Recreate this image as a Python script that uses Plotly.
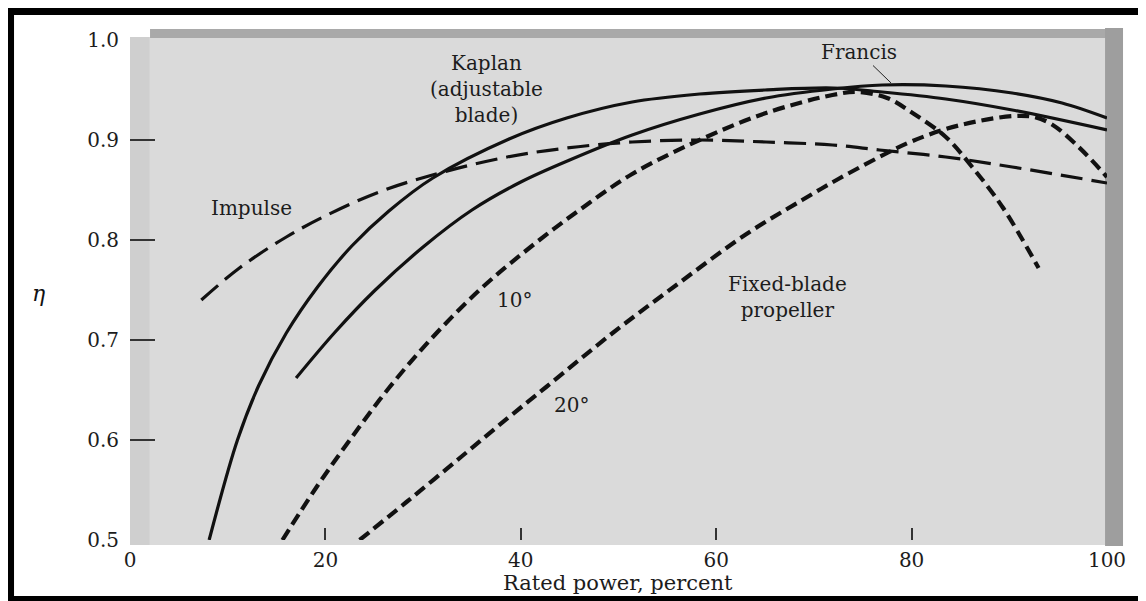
import plotly.graph_objects as go

# ---- data ----
kaplan_x = [8.1, 11.0, 13.2, 16.0, 19.2, 22.7, 26.5, 31.0, 38.8, 44.7, 51.4, 58.3, 65.0, 72.0, 77.0, 83.5, 90.3, 100]
kaplan_y = [0.50, 0.60, 0.655, 0.707, 0.753, 0.794, 0.829, 0.862, 0.901, 0.922, 0.938, 0.946, 0.95, 0.952, 0.948, 0.941, 0.93, 0.91]

francis_x = [17.0, 21.0, 25.0, 30.0, 35.0, 40.0, 45.0, 51.4, 58.3, 65.1, 71.9, 77.0, 83.5, 90.3, 95.4, 100]
francis_y = [0.662, 0.708, 0.749, 0.793, 0.83, 0.858, 0.88, 0.905, 0.926, 0.942, 0.951, 0.955, 0.954, 0.947, 0.937, 0.922]

impulse_x = [7.3, 11.2, 16.0, 20.4, 25.5, 30.6, 38.1, 44.7, 51.4, 58.3, 65.1, 71.9, 76.7, 83.5, 90.3, 100]
impulse_y = [0.74, 0.772, 0.803, 0.826, 0.848, 0.864, 0.882, 0.892, 0.898, 0.90, 0.898, 0.895, 0.89, 0.883, 0.873, 0.857]

prop10_x = [15.6, 19.1, 22.5, 26.5, 31.0, 36.0, 41.0, 46.0, 51.4, 58.3, 65.1, 71.9, 74.5, 77.5, 80.1, 83.5, 86.2, 89.3, 93.0]
prop10_y = [0.50, 0.553, 0.60, 0.652, 0.703, 0.752, 0.793, 0.83, 0.866, 0.90, 0.927, 0.945, 0.948, 0.942, 0.927, 0.903, 0.873, 0.833, 0.772]

prop20_x = [23.5, 28.3, 34.0, 38.8, 42.6, 49.4, 56.2, 63.1, 68.8, 72.5, 77.7, 80.1, 83.5, 86.9, 90.5, 92.5, 94.3, 97.1, 100]
prop20_y = [0.50, 0.538, 0.584, 0.623, 0.653, 0.707, 0.757, 0.806, 0.84, 0.861, 0.888, 0.899, 0.911, 0.919, 0.924, 0.923, 0.916, 0.893, 0.863]

x_ticks = [0, 20, 40, 60, 80, 100]
x_tick_text = ["0", "20", "40", "60", "80", "100"]
y_ticks = [0.5, 0.6, 0.7, 0.8, 0.9, 1.0]
y_tick_text = ["0.5", "0.6", "0.7", "0.8", "0.9", "1.0"]

INK = "#111111"
TXT = "#1c1c1c"
FONT = "DejaVu Serif"

fig = go.Figure()

def add_curve(x, y, name, width, dash):
    fig.add_trace(go.Scatter(
        x=x, y=y, mode="lines", name=name,
        line=dict(color=INK, width=width, dash=dash, shape="spline", smoothing=1.0),
        showlegend=False, hoverinfo="skip",
    ))

add_curve(kaplan_x, kaplan_y, "Kaplan", 3.2, "solid")
add_curve(francis_x, francis_y, "Francis", 3.2, "solid")
add_curve(impulse_x, impulse_y, "Impulse", 3.2, "22px,9px")
add_curve(prop10_x, prop10_y, "Fixed-blade 10°", 4.2, "12px,6px")
add_curve(prop20_x, prop20_y, "Fixed-blade 20°", 4.2, "12px,6px")

# text labels
lab = dict(family=FONT, size=20, color=TXT)
fig.add_annotation(x=36.5, y=0.951, text="Kaplan<br>(adjustable<br>blade)", showarrow=False,
                   font=lab, align="center", xanchor="center", yanchor="middle")
fig.add_annotation(x=77.9, y=0.957, text="Francis", showarrow=True, arrowhead=0,
                   arrowwidth=1, arrowcolor="#222", ax=-32, ay=-31, font=lab)
fig.add_annotation(x=12.4, y=0.832, text="Impulse", showarrow=False, font=lab,
                   xanchor="center", yanchor="middle")
fig.add_annotation(x=39.4, y=0.740, text="10°", showarrow=False, font=lab,
                   xanchor="center", yanchor="middle")
fig.add_annotation(x=45.2, y=0.635, text="20°", showarrow=False, font=lab,
                   xanchor="center", yanchor="middle")
fig.add_annotation(x=67.3, y=0.743, text="Fixed-blade<br>propeller", showarrow=False,
                   font=lab, align="center", xanchor="center", yanchor="middle")
fig.add_annotation(x=-0.094, y=0.494, xref="paper", yref="paper", text="<i>η</i>",
                   showarrow=False, xanchor="center", yanchor="middle",
                   font=dict(family=FONT, size=22, color=INK))
fig.add_annotation(x=0.4995, y=-0.086, xref="paper", yref="paper",
                   text="Rated power, percent", showarrow=False,
                   xanchor="center", yanchor="middle",
                   font=dict(family=FONT, size=21, color=TXT))

# background: scanned grey panel, darker top and right bands, black frame
shapes = [
    dict(type="rect", xref="paper", yref="paper", x0=0, x1=1.0, y0=-0.01, y1=1.006,
         fillcolor="#dadada", line=dict(width=0), layer="below"),
    dict(type="rect", xref="paper", yref="paper", x0=0, x1=0.02, y0=-0.01, y1=1.006,
         fillcolor="#cfcfcf", line=dict(width=0), layer="below"),
    dict(type="rect", xref="paper", yref="paper", x0=0.0205, x1=1.0, y0=1.004, y1=1.022,
         fillcolor="#a9a9a9", line=dict(width=0), layer="below"),
    dict(type="rect", xref="paper", yref="paper", x0=0.998, x1=1.0164, y0=-0.012, y1=1.024,
         fillcolor="#9e9e9e", line=dict(width=0), layer="below"),
    dict(type="rect", xref="paper", yref="paper", x0=-0.1249, x1=-0.1187, y0=-0.122, y1=1.066,
         fillcolor="black", line=dict(width=0), layer="above"),
    dict(type="rect", xref="paper", yref="paper", x0=-0.1249, x1=1.04, y0=1.05, y1=1.066,
         fillcolor="black", line=dict(width=0), layer="above"),
    dict(type="rect", xref="paper", yref="paper", x0=-0.1249, x1=1.04, y0=-0.122, y1=-0.112,
         fillcolor="black", line=dict(width=0), layer="above"),
]

# the page body adds an 8px margin, so the figure is 8px smaller and its margins
# are shifted to land the plot area where the reference has it
fig.update_layout(
    width=1138, height=593,
    margin=dict(l=122, r=39, t=32, b=61),
    paper_bgcolor="white", plot_bgcolor="rgba(0,0,0,0)",
    shapes=shapes,
    font=dict(family=FONT, color=INK),
)
fig.update_xaxes(
    range=[0, 100], tickvals=x_ticks, ticktext=x_tick_text, ticks="",
    showgrid=False, zeroline=False, showline=False,
    tickfont=dict(family=FONT, size=20, color=TXT), ticklabelstandoff=6,
    minor=dict(tickvals=[20, 40, 60, 80], ticks="inside", ticklen=12, tickwidth=2,
               tickcolor="#333", showgrid=False),
)
fig.update_yaxes(
    range=[0.5, 1.0], tickvals=y_ticks, ticktext=y_tick_text, ticks="",
    showgrid=False, zeroline=False, showline=False,
    tickfont=dict(family=FONT, size=20, color=TXT), ticklabelstandoff=10,
    minor=dict(tickvals=[0.6, 0.7, 0.8, 0.9], ticks="inside", ticklen=25, tickwidth=1.5,
               tickcolor="#333", showgrid=False),
)

fig.write_html("out.html")
